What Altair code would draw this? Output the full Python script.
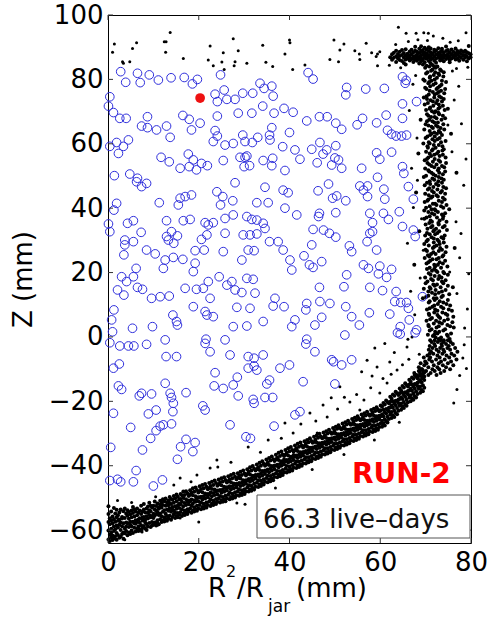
import altair as alt
import pandas as pd

X_DOMAIN = [0, 80]
Y_DOMAIN = [-64, 100]
x_ticks = [0, 20, 40, 60, 80]
y_ticks = [-60, -40, -20, 0, 20, 40, 60, 80, 100]

# blue open circles (x, z)
blue_circles = [
    (2.8,82.4),(6.5,81.9),(9.1,81.4),(3.9,79.1),(7.1,79.0),(11.1,79.8),(13.9,80.5),(16.8,80.6),(18.6,78.6),(19.7,80.0),(24.8,81.4),
    (0.4,74.6),(0.1,71.7),(1.2,69.7),(23.6,75.4),(25.6,76.7),(24.1,73.1),(26.2,73.8),(28.0,73.8),(29.7,75.7),(31.9,75.7),(33.5,78.8),
    (34.4,77.2),(36.1,77.9),(36.4,74.8),(34.1,71.7),(31.7,69.5),(28.7,69.5),(36.6,69.5),
    (2.6,67.9),(4.0,67.9),(8.7,68.4),(16.5,68.8),(17.9,67.6),(20.3,66.4),(24.1,68.6),(18.4,64.3),(7.4,65.5),(8.7,65.0),(10.7,64.3),
    (12.9,65.5),(13.7,62.0),(23.6,64.1),(24.1,62.4),(23.2,60.7),(25.8,59.6),(27.6,60.1),(29.7,62.7),(30.2,60.7),(31.8,60.4),(33.0,62.0),
    (35.6,62.7),(36.1,65.0),(35.7,61.2),
    (1.9,60.4),(0.4,59.2),(3.4,59.2),(4.5,61.2),(2.3,57.0),(11.7,55.8),(13.5,54.4),(17.7,56.8),(15.9,52.4),(17.9,52.9),(19.5,51.9),
    (18.8,55.0),(20.6,53.9),(21.9,53.2),(25.4,54.8),(29.1,55.8),(30.2,55.8),(31.2,53.2),(30.6,56.2),(30.0,52.9),(34.2,54.8),(36.3,55.5),
    (36.1,53.2),(1.4,50.1),(4.8,50.6),(6.5,49.3),
    (44.1,82.1),(45.2,80.1),(52.6,77.5),(52.4,75.2),(56.8,77.0),(60.9,77.2),(64.9,80.8),(65.5,78.8),(65.7,79.7),(64.9,72.4),(68.0,73.1),
    (38.8,71.0),(40.8,69.8),(43.8,67.1),(46.6,68.4),(48.3,68.4),(50.2,66.4),(51.5,64.5),(54.9,65.9),(56.1,67.9),(59.2,66.5),(61.3,68.9),
    (64.9,67.9),(40.0,63.5),(61.6,64.2),(62.5,63.0),(63.5,62.4),(64.7,62.4),(65.8,62.7),
    (38.5,59.1),(41.2,58.1),(44.9,58.3),(46.7,60.4),(48.2,58.1),(50.2,59.4),(47.4,56.8),(42.3,55.2),(46.1,54.1),(50.0,55.6),(50.8,55.0),
    (49.3,53.4),(51.5,52.4),(55.9,52.4),(59.2,57.2),(59.9,55.2),(62.5,57.4),(64.9,52.9),(65.2,50.8),(59.4,49.6),(39.0,51.7),
    (6.3,48.2),(8.5,47.7),(7.4,46.7),(11.3,41.7),(1.9,41.5),(1.3,39.4),(15.9,43.1),(17.0,43.6),(18.4,44.1),(15.5,41.0),(24.0,45.1),
    (25.3,43.6),(24.8,41.0),(27.5,42.3),(28.0,47.9),(34.6,46.5),(32.8,41.7),(35.3,41.7),
    (4.3,35.3),(5.6,36.1),(0.1,35.1),(0.4,32.7),(7.3,32.5),(12.9,36.1),(14.0,32.7),(16.6,36.1),(18.1,36.5),(21.4,35.5),(23.2,35.5),
    (22.1,34.8),(25.8,36.8),(27.6,37.9),(30.6,37.4),(31.7,36.5),(32.8,36.3),(34.2,35.3),(34.6,33.7),(25.8,32.2),(29.8,31.7),(31.3,31.7),
    (32.8,32.0),(35.6,29.6),(37.5,29.6),
    (3.7,30.1),(3.7,28.6),(5.6,29.6),(3.5,25.5),(8.5,27.0),(10.4,25.8),(12.9,31.2),(13.3,30.1),(15.3,31.4),(14.5,29.1),(12.2,21.3),
    (12.6,23.9),(16.5,24.1),(14.4,24.7),(19.2,26.8),(20.6,30.3),(21.8,31.7),(21.2,27.0),(19.2,22.9),(18.8,20.3),(25.4,26.5),(29.5,23.9),
    (30.9,27.0),(32.2,26.8),
    (3.0,18.7),(5.6,18.7),(6.2,21.3),(4.1,17.2),(2.1,14.6),(3.5,13.0),(6.5,15.4),(7.6,14.8),(9.6,12.0),(11.5,12.5),(13.5,12.7),
    (17.0,15.1),(19.5,14.8),(21.0,15.1),(22.1,17.2),(22.5,12.0),(24.5,18.7),(26.2,16.1),(27.3,17.2),(28.0,14.6),(29.5,13.8),(30.6,18.2),
    (32.0,17.9),(32.4,13.6),(36.8,12.0),
    (18.8,9.4),(21.4,7.9),(21.8,6.8),(23.2,6.3),(14.3,6.8),(15.1,4.8),(15.3,3.7),(9.8,3.2),(5.4,2.7),(1.3,8.4),(0.8,5.3),(1.0,1.6),
    (0.4,-1.8),(2.6,-2.8),(4.5,-2.8),(5.7,-2.8),(8.5,-2.3),(12.6,-0.9),(12.8,-6.1),(15.1,-6.1),(21.6,-0.7),(21.4,-2.0),(22.5,-4.6),
    (25.8,-0.9),(27.6,3.2),(28.4,9.2),(31.3,8.9),(34.2,4.8),(30.6,3.4),(26.9,-5.6),(30.9,-6.1),(32.2,-6.6),(34.2,-5.6),(36.4,9.6),
    (38.6,45.6),(39.7,44.8),(39.0,40.0),(41.6,37.9),(46.3,45.4),(48.6,47.5),(49.5,43.1),(50.4,43.8),(52.4,42.3),(55.5,46.9),(57.2,46.9),
    (56.3,45.6),(57.2,43.6),(60.8,45.9),(61.0,42.8),(66.2,46.7),(67.3,42.8),
    (46.6,38.4),(46.4,37.4),(50.2,38.6),(45.2,33.4),(47.5,33.2),(48.8,32.2),(50.2,31.0),(57.7,38.4),(58.3,35.5),(60.7,38.4),(61.8,36.5),
    (64.2,38.9),(64.9,34.3),(67.3,33.2),(67.7,31.2),(57.7,32.2),(58.3,32.7),(57.1,29.6),(59.2,27.0),(44.9,28.6),
    (38.6,27.0),(40.1,23.9),(43.2,25.2),(44.4,22.4),(45.2,21.6),(47.1,23.4),(40.5,20.8),(53.2,28.3),(53.7,26.5),(56.3,22.4),(57.4,21.3),
    (59.9,22.0),(62.5,21.0),(61.4,18.5),(59.6,19.6),(52.6,19.3),(52.0,15.6),(46.6,15.4),(57.7,15.4),(60.5,14.4),(63.5,14.1),(63.2,11.0),
    (64.5,10.7),(65.8,10.7),(66.2,8.9),(69.3,12.5),
    (38.8,9.4),(43.8,10.4),(46.7,11.0),(48.9,10.4),(43.6,8.4),(52.4,9.4),(47.1,6.1),(45.6,3.7),(41.2,5.3),(40.5,3.2),(43.8,-0.7),
    (43.6,-2.2),(52.2,0.6),(53.7,6.3),(55.4,3.7),(57.6,7.5),(62.1,7.1),(64.4,3.2),(63.8,1.3),(64.4,0.9),(66.4,5.3),(68.0,2.2),(67.7,1.3),
    (45.6,-4.6),(49.3,-7.1),(53.7,-7.1),
    (1.2,-9.7),(2.5,-8.4),(2.3,-15.2),(3.0,-16.3),(12.6,-14.4),(7.4,-17.5),(6.9,-18.3),(9.6,-17.7),(13.7,-17.5),(14.0,-18.8),(14.4,-20.6),
    (14.3,-23.2),(17.2,-17.3),(10.6,-22.7),(8.9,-23.9),(1.2,-23.7),(5.0,-28.1),(10.6,-29.1),(11.5,-27.7),(12.2,-27.3),(14.0,-27.0),
    (9.4,-31.5),(7.6,-35.1),(0.6,-34.3),(16.0,-34.1),(17.2,-31.8),(19.2,-32.8),(18.7,-35.6),(15.3,-38.0),(6.2,-41.5),(5.6,-45.0),
    (0.4,-44.6),(2.1,-44.2),(2.8,-45.0),(10.0,-46.3),(12.0,-44.4),(20.9,-21.4),(21.4,-22.7),(23.6,-11.1),(23.4,-15.2),(25.4,-16.0),
    (27.6,-14.9),(28.5,-12.5),(28.7,-18.3),(30.9,-9.7),(32.2,-9.0),(32.8,-10.3),(35.0,-14.6),(35.6,-13.4),(36.3,-18.8),(32.0,-19.4),
    (32.2,-20.6),(34.6,-18.8),(37.9,-9.7),(26.9,-27.3),(30.4,-31.0),(31.4,-31.5),(36.6,-27.7),
    (40.0,-8.7),(43.0,-13.9),(49.7,-7.7),(51.5,-8.7),(50.0,-14.6),(41.2,-24.2),(42.3,-23.2),
]

red_event = [(20.3, 74.2)]

# sparse black dots above the fiducial volume
top_scatter = [
    (1.4,91.0),(1.0,88.4),(3.2,85.5),(3.4,85.0),(4.8,85.5),(5.4,89.6),(6.3,91.4),(12.4,91.7),(12.8,91.7),(12.7,88.4),(13.7,94.6),
    (16.6,86.5),(22.5,90.4),(22.1,86.0),(23.2,84.2),(25.1,85.4),(25.6,83.1),(25.4,88.3),(27.6,92.6),(28.0,85.5),(27.8,84.2),(28.7,88.9),
    (30.6,85.0),(34.1,90.6),(34.8,85.3),(36.3,84.0),
    (40.0,92.2),(40.1,91.4),(39.0,87.9),(40.7,83.1),(43.4,84.5),(49.8,92.2),(51.1,89.1),(48.9,86.2),(50.8,85.5),(52.0,91.0),(54.4,88.9),
    (55.4,87.9),(55.5,86.2),(56.9,91.2),(58.1,88.3),(59.1,87.1),(59.4,87.9),(59.9,88.6),(59.4,84.2),(64.0,96.2),(65.7,94.3),(67.9,94.3),
    (69.6,94.5),(70.6,94.3),(71.7,93.5),(78.9,94.5),
    (64.5,83.6),(66.2,91.8),(68.3,92.3),(75.4,91.5),(77.2,92.0),(79.3,83.8),(62.0,84.4),(63.4,90.8),(73.8,92.8),(76.8,83.4),(70.4,92.1),
]

column_scatter = [
    (67.2,78.5),(66.4,70.3),(68.1,61.8),(76.3,73.6),(77.9,66.2),(66.9,52.4),(75.8,57.5),(78.4,47.1),(67.3,40.2),(76.7,35.8),
    (66.0,29.1),(77.5,24.6),(68.8,18.3),(76.9,13.5),(79.2,8.7),(67.6,6.9),(66.1,-0.7),(78.6,2.8),(68.2,48.7),(75.9,82.6),
    (67.8,81.2),(77.3,77.9),(74.9,65.8),(69.1,36.7),(77.8,32.1),(75.3,20.2),(69.5,26.9),(78.9,55.3),(66.7,14.2),(79.5,19.6),
]

band_outliers = [
    (3.7,-63.0),(7.5,-60.0),(11.0,-58.4),(15.9,-56.2),(14.5,-46.0),(19.6,-42.9),(22.5,-40.7),(24.0,-38.2),(15.9,-43.8),
    (24.2,-40.4),(30.9,-34.2),(35.3,-32.0),(39.0,-26.7),(40.8,-29.8),(28.4,-51.6),(7.5,-60.6),(44.5,-23.6),(47.4,-21.1),
    (53.3,-20.2),(55.5,-22.7),(51.1,-15.5),(59.9,-17.4),(61.5,-14.3),(59.3,-9.3),(63.7,-10.3),(58.2,-12.1),(53.3,-26.7),
    (57.1,-7.2),(58.8,-3.4),(62.1,-7.8),(65.9,-3.1),(67.0,0.0),(77.5,-12.0),(78.2,-6.5),(76.9,-16.3),(79.0,-9.8),
    (76.2,-20.5),(78.5,-2.4),
    (42.5,-27.0),(45.8,-26.1),(48.3,-24.9),(50.6,-22.4),(52.1,-18.7),(54.8,-17.9),(56.4,-19.6),(57.9,-15.8),(60.6,-12.9),
    (62.4,-11.6),(64.9,-8.6),(66.3,-6.9),(68.6,-5.4),(63.1,-4.8),(61.0,-2.0),(55.9,-10.8),(49.2,-18.9),(46.1,-29.8),
    (38.2,-31.5),(33.6,-35.8),(27.1,-38.9),(18.3,-45.0),(10.5,-49.6),(5.2,-51.4),(2.1,-50.8),(36.9,-46.9),(45.0,-41.2),
    (52.0,-36.5),(58.7,-32.0),(64.2,-26.5),(20.0,-57.5),(30.2,-52.0),
]

# dense cluster at the top of the jar: x -> list of z
top_cluster_slices = {
    62.2: [86.9], 62.6: [87.8, 86.1], 63.0: [88.3, 86.7], 63.5: [87.2, 85.4, 88.9], 63.9: [86.5, 87.9],
    64.3: [88.6, 86.0, 87.3], 64.8: [85.7, 87.6, 89.1], 65.2: [86.8, 88.2, 85.1], 65.6: [87.4, 89.4, 86.2, 84.6],
    66.0: [88.0, 86.5, 87.1], 66.5: [85.9, 88.7, 87.5, 86.9], 66.9: [89.2, 86.3, 87.8], 67.3: [87.0, 85.4, 88.4, 86.6],
    67.7: [88.9, 87.3, 86.1, 90.1], 68.1: [85.8, 87.7, 88.6, 86.9], 68.6: [89.5, 87.0, 86.3, 88.2, 84.9],
    69.0: [88.8, 87.4, 85.6, 86.7, 90.3], 69.4: [87.9, 86.2, 89.1, 84.6, 88.5], 69.8: [86.8, 88.3, 85.3, 87.5, 89.8],
    70.2: [88.1, 86.4, 87.2, 84.2, 89.3], 70.7: [87.6, 85.7, 88.8, 86.9, 90.0], 71.1: [86.1, 88.4, 87.3, 85.0, 89.6],
    71.5: [88.0, 86.6, 87.9, 84.5], 71.9: [87.1, 89.2, 85.8, 88.6], 72.3: [86.4, 87.7, 88.9, 85.2],
    72.8: [88.2, 86.9, 87.4, 89.7], 73.2: [85.9, 87.8, 88.5, 86.5], 73.6: [88.9, 87.2, 86.1, 89.5],
    74.0: [87.6, 85.6, 88.3, 86.8], 74.5: [86.3, 88.8, 87.4, 90.2], 74.9: [87.9, 86.7, 89.1], 75.3: [86.0, 88.4, 87.2, 85.3],
    75.7: [87.8, 89.3, 86.5], 76.1: [88.6, 86.9, 87.5], 76.6: [86.2, 88.1, 89.6, 87.3], 77.0: [87.7, 86.4, 88.8],
    77.4: [88.3, 87.0, 85.8], 77.8: [86.7, 89.0, 87.9], 78.3: [87.4, 88.5, 86.1], 78.7: [88.9, 86.8, 87.6],
    79.1: [87.2, 85.6, 88.4], 79.5: [86.5, 88.1, 90.4], 79.9: [87.8, 86.9],
}

# vertical column along the jar wall: z -> list of x
column_slices = {
    84.0: [70.8, 72.6, 71.9], 83.1: [71.5, 73.2], 82.2: [70.4, 72.1, 74.0], 81.4: [71.8, 73.0], 80.5: [70.9, 72.5],
    79.6: [71.3, 73.6, 69.8], 78.8: [72.2, 70.6], 77.9: [71.0, 73.1], 77.0: [72.4, 70.2, 74.3], 76.1: [71.6, 72.9],
    75.3: [70.7, 72.0], 74.4: [71.9, 73.4, 69.6], 73.5: [72.6, 71.1], 72.7: [70.5, 72.3], 71.8: [71.7, 73.8],
    70.9: [72.8, 70.9, 74.9], 70.1: [71.4, 72.2], 69.2: [70.3, 73.0], 68.3: [72.0, 71.2], 67.5: [73.5, 70.8, 68.9],
    66.6: [71.9, 72.7], 65.7: [70.6, 72.3], 64.9: [71.6, 73.3], 64.0: [72.9, 70.9], 63.1: [71.3, 72.5, 75.6],
    62.3: [70.4, 72.0], 61.4: [72.6, 71.5], 60.5: [73.4, 70.7], 59.6: [71.8, 72.9], 58.8: [70.5, 72.2],
    57.9: [71.4, 73.7], 57.0: [72.5, 70.9, 68.4], 56.2: [71.2, 73.1], 55.3: [72.0, 70.3], 54.4: [73.2, 71.6],
    53.6: [70.8, 72.4], 52.7: [71.9, 74.1], 51.8: [72.7, 70.6], 51.0: [71.3, 73.0, 76.8], 50.1: [72.2, 70.1],
    49.2: [71.5, 73.5], 48.4: [70.9, 72.8], 47.5: [72.3, 71.0], 46.6: [73.9, 71.7], 45.8: [70.5, 72.6],
    44.9: [71.8, 73.3, 67.9], 44.0: [72.4, 70.7], 43.2: [71.2, 73.8], 42.3: [72.9, 70.4], 41.4: [71.6, 72.1],
    40.6: [73.4, 70.9], 39.7: [72.0, 71.3, 75.2], 38.8: [70.6, 72.7], 38.0: [71.9, 73.6], 37.1: [72.5, 70.2],
    36.2: [71.1, 73.1], 35.4: [72.8, 70.8], 34.5: [71.5, 74.2], 33.6: [70.4, 72.3], 32.8: [73.0, 71.7, 68.6],
    31.9: [72.1, 70.9], 31.0: [71.3, 73.5], 30.2: [72.6, 70.5], 29.3: [74.0, 71.8], 28.4: [70.7, 72.4],
    27.6: [71.6, 73.2, 76.4], 26.7: [72.9, 70.3], 25.8: [71.2, 72.2], 25.0: [73.7, 70.8], 24.1: [72.4, 71.5],
    23.2: [70.6, 73.1], 22.4: [71.9, 72.7, 67.5], 21.5: [73.4, 70.9], 20.6: [72.3, 71.4], 19.8: [70.7, 74.1],
    18.9: [72.0, 73.0], 18.0: [71.2, 72.8], 17.2: [73.6, 70.4], 16.3: [72.5, 71.7], 15.4: [70.9, 73.3, 76.0],
    14.6: [72.2, 74.4], 13.7: [71.4, 72.9], 12.8: [73.8, 70.6], 12.0: [72.4, 71.8, 69.4], 11.1: [70.9, 73.1],
    10.2: [72.7, 74.6], 9.4: [71.5, 73.4], 8.5: [72.1, 70.3, 75.1], 7.6: [73.7, 71.9], 6.8: [72.6, 70.8, 74.8],
    5.9: [71.4, 73.2], 5.0: [74.1, 72.3, 70.2], 4.2: [71.8, 73.6], 3.3: [72.9, 70.7, 75.4], 2.4: [71.3, 74.3],
    1.6: [73.0, 72.1], 0.7: [70.5, 74.7, 71.9], -0.2: [73.4, 72.2], -1.0: [71.0, 74.0],
}

column_slices_b = {
    83.6: [72.2, 69.9], 82.7: [73.4, 71.2], 81.8: [70.1, 72.8], 80.9: [73.9, 71.0], 80.0: [72.0, 69.5], 79.2: [70.8, 74.5],
    78.3: [73.5, 71.7], 77.4: [69.9, 72.7], 76.5: [73.4, 70.9], 75.7: [72.5, 74.1], 74.8: [70.2, 73.0], 73.9: [74.0, 70.3],
    73.1: [71.6, 73.6], 72.2: [69.8, 72.9], 71.3: [73.1, 71.0], 70.5: [74.2, 70.1], 69.6: [72.8, 71.9], 68.7: [70.6, 73.8],
    67.9: [72.4, 74.3], 67.0: [70.3, 71.5], 66.1: [73.9, 70.0], 65.3: [71.3, 72.7], 64.4: [69.7, 74.1], 63.5: [71.9, 73.2],
    62.7: [73.6, 71.0], 61.8: [70.0, 73.1], 60.9: [72.0, 74.4], 60.1: [70.9, 69.5], 59.2: [73.7, 70.4], 58.3: [71.6, 74.0],
    57.5: [70.1, 72.8], 56.6: [73.8, 71.9], 55.7: [70.6, 74.4], 54.9: [72.9, 69.8], 54.0: [70.4, 74.5], 53.1: [73.6, 71.3],
    52.3: [69.9, 72.9], 51.4: [74.3, 70.8], 50.5: [71.7, 73.8], 49.7: [69.6, 72.9], 48.8: [74.0, 71.9], 47.9: [70.3, 73.6],
    47.1: [72.8, 69.8], 46.2: [70.8, 74.5], 45.3: [73.6, 71.4], 44.5: [69.9, 74.3], 43.6: [72.7, 71.5], 42.7: [74.2, 70.6],
    41.9: [69.8, 73.6], 41.0: [72.4, 74.6], 40.1: [70.1, 73.9], 39.3: [72.2, 69.7], 38.4: [74.3, 71.4], 37.5: [70.9, 73.9],
    36.7: [73.8, 69.7], 35.8: [71.4, 74.6], 34.9: [70.0, 72.9], 34.1: [73.8, 71.2], 33.2: [71.9, 74.7], 32.3: [70.3, 72.6],
    31.5: [74.2, 69.9], 30.6: [71.8, 73.9], 29.7: [70.2, 72.9], 28.9: [73.1, 69.7], 28.0: [71.9, 74.6], 27.1: [70.0, 73.6],
    26.3: [74.4, 71.7], 25.4: [70.5, 73.9], 24.5: [72.9, 69.8], 23.7: [71.0, 74.3], 22.8: [73.8, 70.2], 21.9: [72.1, 74.8],
    21.1: [70.3, 71.9], 20.2: [73.9, 72.6], 19.3: [71.1, 74.9], 18.5: [69.9, 73.5], 17.6: [74.4, 71.6], 16.7: [70.0, 73.9],
    15.9: [72.0, 74.9], 15.0: [71.1, 69.6], 14.1: [73.6, 70.6], 13.3: [72.1, 75.2], 12.4: [70.1, 73.5], 11.5: [74.9, 72.0],
    10.7: [70.7, 73.9], 9.8: [71.9, 75.4], 8.9: [73.9, 70.9], 8.1: [72.6, 75.8], 7.2: [70.7, 74.4], 6.3: [72.9, 76.1],
    5.5: [71.0, 74.9], 4.6: [73.0, 75.9], 3.7: [70.6, 74.8], 2.9: [72.4, 76.2], 2.0: [70.9, 73.9], 1.1: [72.6, 75.6],
    0.3: [71.6, 74.9], -0.6: [72.9, 75.3],
}

# dense band along the bottom of the jar: x -> list of z
band_slices = {
    0.1: [-62.9, -60.1, -57.5, -55.0, -52.6], 0.4: [-61.4, -58.2, -56.3, -63.4], 0.7: [-59.6, -62.2, -54.2, -57.0, -60.8],
    1.0: [-57.9, -61.7, -55.8, -63.1], 1.3: [-60.3, -56.6, -53.1, -62.6, -58.9], 1.6: [-61.9, -57.4, -54.8, -59.7],
    1.9: [-63.0, -58.6, -56.0, -60.9, -53.7], 2.2: [-59.2, -55.4, -61.5, -57.1], 2.5: [-62.4, -56.7, -58.3, -54.5],
    2.8: [-60.0, -57.6, -53.6, -62.0], 3.1: [-58.8, -55.9, -61.2, -56.4], 3.4: [-60.7, -54.1, -57.9, -62.7],
    3.7: [-59.5, -56.2, -53.3, -61.0], 4.0: [-57.6, -60.3, -54.9, -58.9], 4.3: [-61.6, -55.5, -57.9, -53.8],
    4.6: [-59.0, -56.5, -60.7, -54.4], 4.9: [-58.3, -55.1, -61.2, -57.4], 5.2: [-60.1, -53.9, -56.0, -58.8],
    5.5: [-57.4, -60.9, -54.7, -52.8], 5.8: [-59.3, -55.8, -57.9, -53.6], 6.1: [-60.4, -56.9, -54.2, -58.0],
    6.4: [-57.5, -59.6, -53.3, -55.4], 6.7: [-58.9, -54.6, -60.3, -56.7], 7.0: [-56.3, -59.8, -53.9, -57.7],
    7.3: [-58.5, -55.0, -52.4, -60.2], 7.6: [-57.0, -59.3, -54.2, -56.1], 7.9: [-58.7, -53.6, -55.9, -51.9],
    8.2: [-56.8, -59.5, -54.5, -57.6], 8.5: [-58.1, -53.3, -55.7, -60.0], 8.8: [-56.4, -58.9, -52.7, -54.6],
    9.1: [-57.8, -55.3, -53.8, -51.5], 9.4: [-56.0, -59.0, -54.1, -52.4], 9.7: [-57.5, -55.6, -53.0, -58.6],
    10.0: [-56.2, -52.4, -58.3, -54.9], 10.3: [-57.6, -53.6, -55.5, -51.1], 10.6: [-55.0, -58.6, -52.5, -53.9],
    10.9: [-56.9, -54.4, -51.7, -57.8], 11.2: [-55.3, -52.9, -58.2, -53.4], 11.5: [-56.6, -54.8, -50.9, -52.1],
    11.8: [-57.5, -53.0, -55.7, -51.5], 12.1: [-54.3, -56.9, -52.2, -50.4], 12.4: [-56.0, -53.8, -51.0, -57.3],
    12.7: [-54.9, -52.4, -56.6, -50.2], 13.0: [-55.6, -53.6, -51.4, -57.1], 13.3: [-54.0, -56.4, -50.8, -52.3],
    13.6: [-55.5, -53.2, -49.7, -51.6], 13.9: [-56.8, -54.3, -51.9, -50.3], 14.2: [-53.7, -55.9, -50.6, -52.8],
    14.5: [-55.1, -51.5, -53.9, -49.4], 14.8: [-56.2, -52.6, -50.1, -54.5], 15.1: [-53.4, -55.6, -51.0, -48.9],
    15.4: [-54.7, -52.3, -49.6, -56.0], 15.7: [-53.1, -50.5, -55.2, -51.8], 16.0: [-54.4, -52.0, -48.8, -50.3],
    16.3: [-55.6, -51.2, -53.5, -49.2], 16.6: [-52.6, -54.9, -50.0, -48.0], 16.9: [-53.9, -51.6, -49.1, -55.3],
    17.2: [-52.2, -54.6, -50.4, -47.9], 17.5: [-53.5, -51.1, -48.6, -55.0], 17.8: [-52.0, -49.4, -54.2, -50.8],
    18.1: [-53.3, -51.0, -47.6, -49.0], 18.4: [-54.6, -50.5, -52.4, -48.3], 18.7: [-51.7, -53.9, -49.2, -47.0],
    19.0: [-52.9, -50.7, -48.1, -54.2], 19.3: [-51.2, -53.6, -49.5, -46.8], 19.6: [-52.4, -50.1, -47.5, -54.0],
    19.9: [-51.0, -48.3, -53.3, -49.8], 20.2: [-52.2, -49.9, -46.4, -47.9], 20.5: [-53.5, -49.6, -51.4, -47.2],
    20.8: [-50.5, -52.8, -48.2, -46.0], 21.1: [-51.8, -49.5, -47.0, -53.3], 21.4: [-50.2, -52.5, -48.6, -45.7],
    21.7: [-51.4, -49.0, -46.5, -53.0], 22.0: [-49.8, -47.3, -52.2, -48.8], 22.3: [-51.1, -48.9, -45.4, -46.9],
    22.6: [-52.5, -48.3, -50.5, -46.3], 22.9: [-49.5, -51.8, -47.2, -45.0], 23.2: [-50.8, -48.5, -46.0, -52.2],
    23.5: [-49.1, -51.5, -47.4, -44.6], 23.8: [-50.3, -48.0, -45.4, -51.9], 24.1: [-48.9, -46.2, -51.2, -47.7],
    24.4: [-50.1, -47.8, -44.3, -45.8], 24.7: [-51.4, -47.5, -49.4, -45.1], 25.0: [-48.4, -50.7, -46.1, -43.9],
    25.3: [-49.7, -47.4, -44.9, -51.2], 25.6: [-48.1, -50.4, -46.5, -43.6], 25.9: [-49.3, -46.9, -44.4, -51.0],
    26.2: [-47.7, -45.2, -50.1, -46.7], 26.5: [-49.0, -46.8, -43.3, -44.8], 26.8: [-50.4, -46.4, -48.4, -44.2],
    27.1: [-47.4, -49.7, -45.1, -42.9], 27.4: [-48.7, -46.4, -43.9, -50.2], 27.7: [-47.0, -49.4, -45.5, -42.5],
    28.0: [-48.2, -45.9, -43.4, -49.9], 28.3: [-46.8, -44.2, -49.2, -45.6], 28.6: [-48.0, -45.8, -42.3, -43.8],
    28.9: [-49.3, -45.4, -47.3, -43.1], 29.2: [-46.3, -48.6, -44.0, -41.9], 29.5: [-47.6, -45.3, -42.9, -49.1],
    29.8: [-46.0, -48.4, -44.5, -41.5], 30.1: [-47.3, -44.9, -42.4, -48.8], 30.4: [-45.6, -43.0, -48.0, -44.5],
    30.7: [-46.8, -44.6, -41.1, -42.6], 31.0: [-48.0, -44.1, -46.1, -41.9], 31.3: [-45.0, -47.3, -42.7, -40.5],
    31.6: [-46.2, -43.9, -41.5, -47.8], 31.9: [-44.5, -46.9, -43.1, -40.1], 32.2: [-45.6, -43.4, -40.9, -47.4],
    32.5: [-44.0, -41.5, -46.5, -42.9], 32.8: [-45.3, -43.1, -39.6, -41.1], 33.1: [-46.6, -42.7, -44.6, -40.5],
    33.4: [-43.5, -45.8, -41.3, -39.1], 33.7: [-44.7, -42.4, -40.0, -46.3], 34.0: [-43.0, -45.4, -41.6, -38.6],
    34.3: [-44.2, -41.9, -39.4, -45.8], 34.6: [-42.6, -40.0, -45.0, -41.5], 34.9: [-43.8, -41.6, -38.1, -39.6],
    35.2: [-45.1, -41.2, -43.1, -39.0], 35.5: [-42.0, -44.3, -39.8, -37.6], 35.8: [-43.2, -40.9, -38.4, -44.8],
    36.1: [-41.5, -43.9, -40.1, -37.1], 36.4: [-42.7, -40.4, -38.0, -44.5], 36.7: [-41.1, -38.5, -43.5, -39.9],
    37.0: [-42.3, -40.0, -36.6, -38.1], 37.3: [-43.6, -39.7, -41.6, -37.5], 37.6: [-40.5, -42.8, -38.2, -36.0],
    37.9: [-41.7, -39.5, -37.0, -43.3], 38.2: [-40.0, -42.4, -38.6, -35.6], 38.5: [-41.3, -39.0, -36.5, -42.9],
    38.8: [-39.6, -37.0, -42.0, -38.1], 39.1: [-40.9, -38.6, -35.1, -36.6], 39.4: [-42.1, -38.2, -40.1, -36.0],
    39.7: [-39.0, -41.3, -36.8, -34.6], 40.0: [-40.2, -38.0, -35.5, -41.8], 40.3: [-38.6, -41.0, -37.2, -34.2],
    40.6: [-39.8, -37.5, -35.1, -41.5], 40.9: [-38.2, -35.6, -40.6, -36.7], 41.2: [-39.4, -37.2, -33.7, -35.2],
    41.5: [-40.7, -36.8, -38.7, -34.6], 41.8: [-37.6, -39.9, -35.4, -33.2], 42.1: [-38.8, -36.6, -34.1, -40.4],
    42.4: [-37.2, -39.6, -35.8, -32.8], 42.7: [-38.4, -36.2, -33.7, -40.0], 43.0: [-36.8, -34.3, -39.2, -35.7],
    43.3: [-38.0, -35.8, -32.4, -33.9], 43.6: [-39.3, -35.4, -37.4, -33.2], 43.9: [-36.2, -38.5, -34.1, -32.0],
    44.2: [-37.4, -35.2, -32.7, -38.9], 44.5: [-35.8, -38.2, -34.4, -31.5], 44.8: [-37.0, -34.8, -32.3, -38.6],
    45.1: [-35.4, -32.9, -37.8, -34.3], 45.4: [-36.6, -34.4, -31.0, -32.6], 45.7: [-37.9, -34.0, -36.0, -31.9],
    46.0: [-34.8, -37.2, -32.8, -30.6], 46.3: [-36.0, -33.8, -31.3, -37.6], 46.6: [-34.4, -36.8, -33.0, -30.1],
    46.9: [-35.6, -33.4, -30.9, -37.2], 47.2: [-34.0, -31.5, -36.4, -32.9], 47.5: [-35.2, -33.0, -29.7, -31.2],
    47.8: [-36.5, -32.6, -34.6, -30.5], 48.1: [-33.4, -35.7, -31.4, -29.3], 48.4: [-34.6, -32.4, -30.0, -36.2],
    48.7: [-33.0, -35.4, -31.6, -28.8], 49.0: [-34.2, -32.0, -29.6, -35.8], 49.3: [-32.6, -30.1, -35.0, -31.5],
    49.6: [-33.8, -31.6, -28.3, -29.8], 49.9: [-35.1, -31.2, -33.2, -29.1], 50.2: [-32.0, -34.3, -30.0, -27.9],
    50.5: [-33.2, -31.0, -28.5, -34.8], 50.8: [-31.6, -34.0, -30.2, -27.4], 51.1: [-32.8, -30.6, -28.2, -34.4],
    51.4: [-31.2, -28.7, -33.6, -30.1], 51.7: [-32.4, -30.2, -26.9, -28.4], 52.0: [-33.7, -29.8, -31.8, -27.7],
    52.3: [-30.6, -32.9, -28.6, -26.5], 52.6: [-31.8, -29.6, -27.2, -33.4], 52.9: [-30.2, -32.6, -28.8, -26.0],
    53.2: [-31.4, -29.2, -26.8, -33.0], 53.5: [-29.8, -27.3, -32.2, -28.7], 53.8: [-31.0, -28.8, -25.5, -27.0],
    54.1: [-32.3, -28.4, -30.4, -26.3], 54.4: [-29.2, -31.5, -27.2, -25.1], 54.7: [-30.4, -28.2, -25.8, -32.0],
    55.0: [-28.8, -31.2, -27.4, -24.6], 55.3: [-30.0, -27.8, -25.4, -31.6], 55.6: [-28.4, -25.9, -30.8, -27.3],
    55.9: [-29.6, -27.4, -24.1, -25.6], 56.2: [-30.9, -27.0, -29.0, -24.9], 56.5: [-27.8, -30.1, -25.8, -23.7],
    56.8: [-29.0, -26.8, -24.4, -30.6], 57.1: [-27.4, -29.8, -26.0, -23.2], 57.4: [-28.6, -26.4, -24.0, -30.2],
    57.7: [-27.0, -24.5, -29.4, -25.9], 58.0: [-28.2, -26.0, -22.7, -24.2], 58.3: [-29.5, -25.6, -27.6, -23.5],
    58.6: [-26.4, -28.7, -24.4, -22.3], 58.9: [-27.6, -25.4, -23.0, -29.2], 59.2: [-26.0, -28.4, -24.6, -21.8],
    59.5: [-27.2, -25.0, -22.6, -28.8], 59.8: [-25.6, -23.1, -28.0, -24.5], 60.1: [-26.8, -24.6, -21.3, -22.8],
    60.4: [-27.9, -24.0, -26.0, -21.6], 60.7: [-24.6, -26.9, -22.6, -20.5], 61.0: [-25.6, -23.4, -21.0, -27.5],
    61.3: [-23.8, -26.2, -22.4, -19.7], 61.6: [-24.8, -22.6, -20.2, -26.6], 61.9: [-23.1, -20.6, -25.5, -22.0],
    62.2: [-24.1, -21.9, -18.6, -20.1], 62.5: [-25.2, -21.3, -23.3, -19.2], 62.8: [-22.0, -24.3, -20.0, -17.9],
    63.1: [-22.9, -20.7, -18.3, -24.9], 63.4: [-21.2, -23.6, -19.8, -17.0], 63.7: [-22.1, -19.9, -17.5, -24.0],
    64.0: [-20.5, -18.0, -22.9, -19.4], 64.3: [-21.4, -19.3, -16.0, -17.5], 64.6: [-22.6, -18.7, -20.7, -16.6],
    64.9: [-19.3, -21.6, -17.3, -15.2], 65.2: [-20.2, -18.0, -15.7, -22.1], 65.5: [-18.6, -21.0, -17.2, -14.4],
    65.8: [-19.5, -17.3, -14.9, -21.4], 66.1: [-17.8, -15.4, -20.3, -16.8], 66.4: [-18.8, -16.6, -13.3, -14.8],
    66.7: [-20.0, -16.1, -18.1, -13.9], 67.0: [-16.7, -19.1, -14.8, -12.6], 67.3: [-17.6, -15.4, -13.0, -19.5],
    67.6: [-16.0, -18.4, -14.6, -11.8], 67.9: [-16.9, -14.7, -12.3, -18.8], 68.2: [-15.2, -12.8, -17.7, -14.2],
    68.5: [-16.1, -13.9, -10.6, -12.1], 68.8: [-17.3, -13.4, -15.4, -11.3], 69.1: [-14.1, -16.5, -12.2, -10.0],
    69.4: [-15.0, -12.8, -10.4, -16.9], 69.7: [-13.4, -11.0, -15.8, -12.3],
}

# steep part of the band where it meets the wall: z -> list of x
band_wall_slices = {
    -11.8: [68.0, 70.6, 72.4, 69.3], -11.2: [71.1, 69.6, 73.3, 67.5], -10.6: [70.1, 72.0, 68.7, 74.1],
    -10.0: [69.2, 71.5, 73.0, 75.4], -9.4: [70.6, 68.5, 72.6, 74.5], -8.8: [71.8, 69.7, 73.8, 76.1],
    -8.2: [70.2, 72.9, 68.9, 74.9], -7.6: [71.4, 73.4, 69.9, 75.6], -7.0: [72.3, 70.8, 74.2, 76.8],
    -6.4: [71.0, 73.1, 69.6, 75.2], -5.8: [72.6, 70.4, 74.6, 76.3], -5.2: [71.7, 73.7, 70.9, 75.7],
    -4.6: [72.9, 71.2, 74.1, 77.0], -4.0: [70.7, 72.4, 73.9, 75.4], -3.4: [73.2, 71.5, 74.8, 76.5],
    -2.8: [72.1, 70.9, 73.6, 75.1], -2.2: [73.5, 71.9, 74.5, 76.0], -1.6: [72.7, 71.3, 74.0, 75.5],
    -1.0: [73.3, 72.0, 74.9],
}

# ---------- build tables ----------
sparse_pts = list(top_scatter) + list(column_scatter) + list(band_outliers)
dense_pts = [(x, z) for x, zs in top_cluster_slices.items() for z in zs]
dense_pts += [(x, z) for z, xs in column_slices.items() for x in xs]
dense_pts += [(x, z) for z, xs in column_slices_b.items() for x in xs]
dense_pts += [(x, z) for x, zs in band_slices.items() for z in zs]
dense_pts += [(x, z) for z, xs in band_wall_slices.items() for x in xs]

sparse_df = pd.DataFrame(sparse_pts, columns=["r", "z"])
dense_df = pd.DataFrame(dense_pts, columns=["r", "z"])
blue_df = pd.DataFrame(blue_circles, columns=["r", "z"])
red_df = pd.DataFrame(red_event, columns=["r", "z"])
xt_df = pd.DataFrame({"r": x_ticks})
yt_df = pd.DataFrame({"z": y_ticks})

W, H = 363, 528
FONT = "DejaVu Sans"
xs = alt.Scale(domain=X_DOMAIN, nice=False, zero=False)
ys = alt.Scale(domain=Y_DOMAIN, nice=False, zero=False)

x_axis = alt.Axis(values=x_ticks, ticks=False, domain=False, grid=False, labelPadding=6, labelFlush=False,
                  labelFontSize=26, labelFont=FONT, labelColor="black", title=None)
y_axis = alt.Axis(values=y_ticks, ticks=False, domain=False, grid=False, labelPadding=5, labelFlush=False,
                  labelFontSize=26, labelFont=FONT, labelColor="black", title="Z (mm)",
                  titleFont=FONT, titleFontSize=26, titleFontWeight="normal", titleColor="black",
                  titlePadding=12)

X = alt.X("r:Q", scale=xs, axis=x_axis)
Y = alt.Y("z:Q", scale=ys, axis=y_axis)

dense = alt.Chart(dense_df).mark_circle(size=16, color="black", opacity=1).encode(x=X, y=Y)
sparse = alt.Chart(sparse_df).mark_circle(size=9, color="black", opacity=1).encode(x=X, y=Y)

blue = alt.Chart(blue_df).mark_point(shape="circle", filled=False, size=75, color="#2f2fdc",
                                     strokeWidth=1, opacity=1).encode(x=X, y=Y)

red = alt.Chart(red_df).mark_circle(size=95, color="#ee1111", opacity=1).encode(x=X, y=Y)

tick_color = "#333333"
ticks_bottom = alt.Chart(xt_df).mark_rule(color=tick_color, strokeWidth=1).encode(
    x=X, y=alt.value(H), y2=alt.value(H - 5))
ticks_top = alt.Chart(xt_df).mark_rule(color=tick_color, strokeWidth=1).encode(
    x=X, y=alt.value(0), y2=alt.value(5))
ticks_left = alt.Chart(yt_df).mark_rule(color=tick_color, strokeWidth=1).encode(
    y=Y, x=alt.value(0), x2=alt.value(5))
ticks_right = alt.Chart(yt_df).mark_rule(color=tick_color, strokeWidth=1).encode(
    y=Y, x=alt.value(W), x2=alt.value(W - 5))

one = pd.DataFrame({"k": [0]})
live_box = alt.Chart(one).mark_rect(fill="white", stroke="#555555", strokeWidth=1).encode(
    x=alt.value(149), x2=alt.value(362), y=alt.value(480), y2=alt.value(523))
live_text = alt.Chart(one).mark_text(text="66.3 live\u2013days", align="left", baseline="alphabetic",
                                     font=FONT, fontSize=26, color="#111111").encode(
    x=alt.value(155), y=alt.value(513))
run_text = alt.Chart(one).mark_text(text="RUN-2", align="left", baseline="alphabetic",
                                    font=FONT, fontSize=28, fontWeight="bold", color="#ff0000").encode(
    x=alt.value(244), y=alt.value(468))

def label(txt, x, y, size):
    return alt.Chart(one).mark_text(text=txt, align="left", baseline="alphabetic", font=FONT,
                                    fontSize=size, color="black").encode(x=alt.value(x), y=alt.value(y))

xtitle = (label("R", 100, 582, 26) + label("2", 118, 562, 16) + label("/R", 129, 582, 26)
          + label("jar", 160, 597, 17) + label("(mm)", 188, 582, 26))

chart = alt.layer(
    dense, sparse, blue, red, ticks_bottom, ticks_top, ticks_left, ticks_right,
    live_box, live_text, run_text, xtitle,
).properties(
    width=W, height=H,
    padding={"left": 108, "top": 15, "right": 25, "bottom": 75},
    autosize="none",
).configure_view(stroke="black", strokeWidth=1)

chart.save("out.html", embed_options={"renderer": "svg", "actions": False})
